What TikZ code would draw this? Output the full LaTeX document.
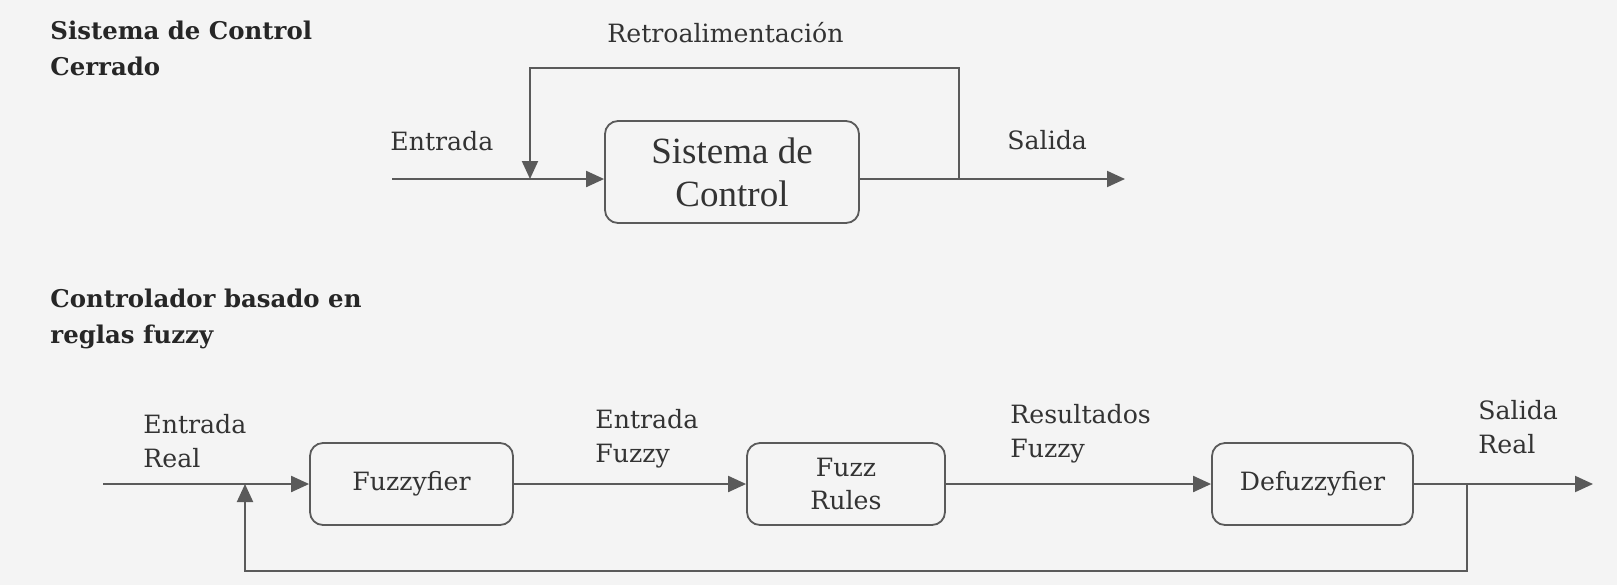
\documentclass[tikz,border=0pt]{standalone}
\usepackage{fontspec}
\setmainfont{DejaVu Serif}
\newfontfamily\cajafont{Liberation Serif}
\usetikzlibrary{arrows.meta}

\definecolor{tinta}{HTML}{333333}
\definecolor{linea}{HTML}{5A5A5A}
\definecolor{fondo}{HTML}{F4F4F4}

\begin{document}
\begin{tikzpicture}[x=0.5pt, y=-0.5pt]
        \tikzstyle{every node} = [font=\fontsize{12.6}{17}\selectfont, text=tinta, inner sep=0pt]
        \tikzstyle{titulo}  = [font=\bfseries\fontsize{12.2}{18}\selectfont, text=black!85, anchor=base west, align=left]
        \tikzstyle{etiq}    = [anchor=base west, align=left]
        \tikzstyle{caja}    = [draw=linea, line width=0.9pt, rounded corners=6.5pt, align=center]
        \tikzstyle{flecha}  = [draw=linea, line width=1pt, -{Triangle[length=9pt, width=8pt]}]

        \def\nivsup{179}
        \def\nivinf{484}

        \path[use as bounding box, fill=fondo] (0,0) rectangle (1617,585);

        % sistema de control cerrado
        \node[titulo] (tita) at (50,75) {Sistema de Control\\Cerrado};
        \node[caja, minimum width=127pt, minimum height=51pt,
            font=\cajafont\fontsize{18.5}{21.5}\selectfont] (sis) at (732,172) {Sistema de\\Control};

        \node[etiq] (retro) at (607,42) {Retroalimentación};
        \node[etiq] (ent) at (390,150) {Entrada};
        \node[etiq] (sal) at (1007,149) {Salida};

        \coordinate (ea) at (392,\nivsup);
        \coordinate (sa) at (1125,\nivsup);
        \coordinate (ra) at (959,\nivsup);
        \coordinate (rb) at (530,\nivsup);

        \draw[flecha] (ea) -- (sis.west |- ea);
        \draw[flecha] (sis.east |- sa) -- (sa);
        \draw[flecha] (ra) -- ++(0,-111) -| (rb);

        % controlador fuzzy
        \node[titulo] (titb) at (50,343) {Controlador basado en\\reglas fuzzy};
        \node[caja, minimum width=101.5pt, minimum height=41pt] (fuz) at (411.5,\nivinf) {Fuzzyfier};
        \node[caja, minimum width=99pt, minimum height=41pt,
            font=\fontsize{12.6}{16.5}\selectfont] (rul) at (846,\nivinf) {Fuzz\\Rules};
        \node[caja, minimum width=100.5pt, minimum height=41pt] (def) at (1312.5,\nivinf) {Defuzzyfier};

        \node[etiq] (entr) at (143,467) {Entrada\\Real};
        \node[etiq] (entf) at (595,462) {Entrada\\Fuzzy};
        \node[etiq] (resf) at (1010,457) {Resultados\\Fuzzy};
        \node[etiq] (salr) at (1478,453) {Salida\\Real};

        \coordinate (eb) at (103,\nivinf);
        \coordinate (sb) at (1593,\nivinf);
        \coordinate (rc) at (1467,\nivinf);
        \coordinate (rd) at (245,\nivinf);

        \foreach \a/\b in {eb/fuz, fuz/rul, rul/def}
            \draw[flecha] (\a) -- (\b);
        \draw[flecha] (def) -- (sb);
        \draw[flecha] (rc) -- ++(0,87) -| (rd);
    \end{tikzpicture}
\end{document}
